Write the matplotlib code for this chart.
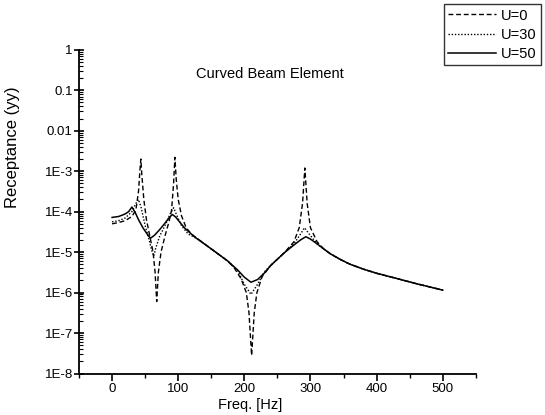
import matplotlib
matplotlib.use("Agg")
import matplotlib.pyplot as plt
from matplotlib.ticker import FixedLocator, NullFormatter, LogLocator

plt.rcParams['font.family'] = ['Liberation Sans', 'DejaVu Sans']

# common high-frequency tail (all three curves coincide)
f_tail = [320, 330, 345, 360, 380, 400, 430, 460, 500]
r_tail = [1.2e-5, 9.1e-6, 6.6e-6, 5.0e-6, 3.8e-6, 3.0e-6, 2.24e-6, 1.66e-6, 1.15e-6]

# U=50 (solid)
f50 = [0, 10, 20, 25, 30, 35, 40, 47, 53, 58, 64, 72, 80, 86, 91, 96, 102, 110,
       125, 150, 175, 190, 200, 210, 220, 230, 240, 260, 275, 285, 293, 300, 310] + f_tail
r50 = [7.2e-5, 7.6e-5, 8.8e-5, 1.0e-4, 1.3e-4, 9.5e-5, 6.3e-5, 3.9e-5, 2.8e-5,
       2.2e-5, 2.6e-5, 3.6e-5, 5.2e-5, 7.0e-5, 8.5e-5, 7.4e-5, 5.6e-5, 3.9e-5,
       2.35e-5, 1.2e-5, 6.0e-6, 3.6e-6, 2.4e-6, 1.8e-6, 2.1e-6, 3.0e-6, 4.7e-6,
       9.5e-6, 1.5e-5, 2.0e-5, 2.4e-5, 2.1e-5, 1.6e-5] + r_tail

# U=0 (dashed)
f0 = [0, 10, 20, 30, 36, 40, 42, 43.5, 45, 48, 52, 57, 62, 65, 67.5, 70, 74,
      80, 86, 90, 93, 95, 97, 100, 105, 112, 120, 130, 150, 175, 185, 195, 203,
      207, 211, 215, 219, 227, 240, 260, 275, 283, 288, 291.5, 295, 300, 310] + f_tail
r0 = [5.0e-5, 5.4e-5, 6.0e-5, 7.6e-5, 1.1e-4, 3.2e-4, 1.0e-3, 2.0e-3, 8.0e-4,
      2.0e-4, 6.3e-5, 2.5e-5, 1.0e-5, 3.2e-6, 6.0e-7, 3.2e-6, 1.0e-5,
      2.5e-5, 5.6e-5, 1.1e-4, 5.0e-4, 2.2e-3, 6.3e-4, 2.0e-4, 7.9e-5, 4.0e-5,
      2.8e-5, 2.1e-5, 1.2e-5, 6.0e-6, 4.0e-6, 2.2e-6, 1.0e-6,
      3.2e-7, 2.8e-8, 3.2e-7, 1.0e-6, 2.5e-6, 4.7e-6, 9.5e-6, 1.8e-5, 4.0e-5,
      1.6e-4, 1.2e-3, 1.6e-4, 4.0e-5, 1.8e-5] + r_tail

# U=30 (dotted)
f30 = [0, 10, 20, 30, 36, 40, 44, 50, 56, 60, 63, 66, 72, 80, 88, 93, 98,
       105, 115, 130, 150, 175, 190, 200, 210, 220, 230, 240, 260, 275, 285,
       291, 298, 310] + f_tail
r30 = [5.6e-5, 6.0e-5, 7.0e-5, 1.0e-4, 1.6e-4, 2.0e-4, 1.25e-4, 4.5e-5, 2.0e-5,
       1.1e-5, 8.0e-6, 1.25e-5, 2.5e-5, 4.5e-5, 8.9e-5, 1.25e-4, 8.0e-5,
       4.5e-5, 2.8e-5, 2.1e-5, 1.2e-5, 6.0e-6, 3.5e-6, 1.6e-6, 9.0e-7, 1.6e-6,
       3.2e-6, 4.7e-6, 9.5e-6, 1.6e-5, 2.8e-5,
       4.0e-5, 2.8e-5, 1.6e-5] + r_tail

yticks = [1, 0.1, 0.01, 1e-3, 1e-4, 1e-5, 1e-6, 1e-7, 1e-8]
ytick_labels = ["1", "0.1", "0.01", "1E-3", "1E-4", "1E-5", "1E-6", "1E-7", "1E-8"]
xticks = [0, 100, 200, 300, 400, 500]
xtick_labels = ["0", "100", "200", "300", "400", "500"]

fig = plt.figure(figsize=(5.45, 4.15), dpi=100)
ax = fig.add_axes([0.145, 0.10, 0.728, 0.78])

l0, = ax.plot(f0, r0, color='black', lw=1.0, linestyle=(0, (3.5, 2)))
l30, = ax.plot(f30, r30, color='black', lw=1.0, linestyle=(0, (1, 1.3)))
l50, = ax.plot(f50, r50, color='black', lw=1.1, linestyle='-')

ax.set_yscale('log')
ax.set_ylim(1e-8, 1)
ax.set_xlim(-50, 550)
ax.yaxis.set_major_locator(FixedLocator(yticks))
ax.set_yticklabels(ytick_labels)
ax.yaxis.set_minor_locator(LogLocator(base=10, subs=range(2, 10), numticks=20))
ax.yaxis.set_minor_formatter(NullFormatter())
ax.set_xticks(xticks)
ax.set_xticklabels(xtick_labels)
ax.set_xticks([-50, 50, 150, 250, 350, 450, 550], minor=True)

for s in ['top', 'right']:
    ax.spines[s].set_visible(False)
for s in ['left', 'bottom']:
    ax.spines[s].set_linewidth(1.3)

ax.tick_params(axis='y', which='major', direction='inout', length=7, width=1.2, labelsize=9.5, pad=1)
ax.tick_params(axis='y', which='minor', direction='in', length=3, width=0.8)
ax.tick_params(axis='x', which='major', direction='out', length=5, width=1.2, labelsize=9.5, pad=2)
ax.tick_params(axis='x', which='minor', direction='out', length=3, width=1.0)

ax.text(0.48, 0.924, "Curved Beam Element", transform=ax.transAxes,
        ha='center', va='center', fontsize=10.5)

ax.set_xlabel("Freq. [Hz]", fontsize=10.5)
ax.xaxis.set_label_coords(0.43, -0.076)
ax.set_ylabel("Receptance (yy)", fontsize=12)
ax.yaxis.set_label_coords(-0.15, 0.70)

leg = fig.legend([l0, l30, l50], ["U=0", "U=30", "U=50"],
                 loc='upper right', bbox_to_anchor=(0.992, 0.99),
                 frameon=True, fancybox=False, edgecolor='black', fontsize=10.5,
                 handlelength=3.3, handletextpad=0.3, borderpad=0.3,
                 labelspacing=0.35, borderaxespad=0)
leg.get_frame().set_linewidth(1.0)

fig.savefig("out.png", dpi=100)
